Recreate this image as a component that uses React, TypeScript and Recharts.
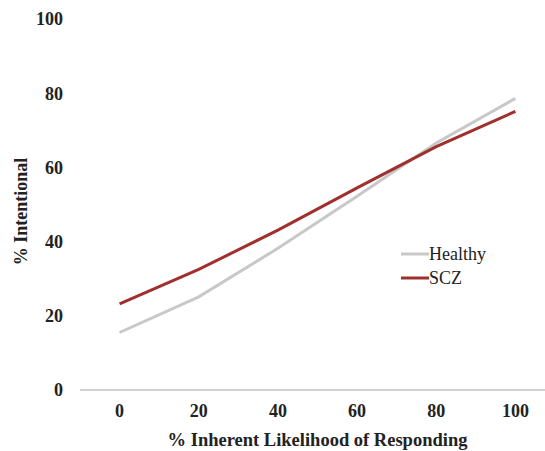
import React from 'react';
import { LineChart, Line, XAxis, YAxis } from 'recharts';

const likelihood = [0, 20, 40, 60, 80, 100];
const healthy = [15.5, 25.1, 38.2, 52.2, 66.6, 78.6];
const scz = [23.2, 32.5, 43.1, 54.5, 65.6, 75.1];
const yTicks = [0, 20, 40, 60, 80, 100];
const seriesNames = ['Healthy', 'SCZ'];
const seriesColors = ['#c8c8c8', '#a0302e'];

const data = likelihood.map((x, i) => ({ x, healthy: healthy[i], scz: scz[i] }));

const FONT = '"Liberation Serif", "Times New Roman", serif';

const LegendBox = () => (
  <div style={{ position: 'absolute', left: 400, top: 242, fontFamily: FONT, fontSize: 18, color: '#222' }}>
    {seriesNames.map((n, i) => (
      <div key={n} style={{ display: 'flex', alignItems: 'center', height: 24 }}>
        <svg width={29} height={6} style={{ marginRight: 0 }}>
          <line x1={1} y1={3} x2={29} y2={3} stroke={seriesColors[i]} strokeWidth={3} />
        </svg>
        <span>{n}</span>
      </div>
    ))}
  </div>
);

const YTitle = (props: any) => {
  const vb = props.viewBox || {};
  const cx = 21;
  const cy = vb.y + vb.height / 2 + 7;
  return (
    <text
      x={cx}
      y={cy}
      transform={`rotate(-90, ${cx}, ${cy})`}
      textAnchor="middle"
      dominantBaseline="central"
      fontFamily={FONT}
      fontWeight="bold"
      fontSize={18}
      fill="#222"
    >
      % Intentional
    </text>
  );
};

export default function App() {
  return (
    <div style={{ position: 'absolute', left: 0, top: 0, width: 545, height: 451, overflow: 'hidden', background: '#fff' }}>
      <LineChart width={555} height={451} data={data} margin={{ top: 19, right: 0, bottom: 0, left: 0 }}>
        <XAxis
          dataKey="x"
          type="number"
          domain={[-10, 110]}
          ticks={likelihood}
          tickLine={false}
          tickSize={6}
          tickMargin={8}
          axisLine={{ stroke: '#c0c0c0', strokeWidth: 1.5 }}
          tick={{ fontFamily: FONT, fontWeight: 'bold', fontSize: 18, fill: '#222' }}
          height={61}
          label={{
            value: '% Inherent Likelihood of Responding',
            position: 'insideBottom',
            offset: 5,
            style: { fontFamily: FONT, fontWeight: 'bold', fontSize: 18.5, fill: '#222' },
          }}
        />
        <YAxis
          type="number"
          domain={[0, 100]}
          ticks={yTicks}
          width={80}
          axisLine={false}
          tickLine={false}
          tickSize={6}
          tickMargin={11}
          tick={{ fontFamily: FONT, fontWeight: 'bold', fontSize: 18, fill: '#222' }}
          label={<YTitle />}
        />
        <Line
          dataKey="healthy"
          name="Healthy"
          stroke={seriesColors[0]}
          strokeWidth={3}
          dot={false}
          activeDot={false}
          isAnimationActive={false}
        />
        <Line
          dataKey="scz"
          name="SCZ"
          stroke={seriesColors[1]}
          strokeWidth={3}
          dot={false}
          activeDot={false}
          isAnimationActive={false}
        />
      </LineChart>
      <LegendBox />
    </div>
  );
}
